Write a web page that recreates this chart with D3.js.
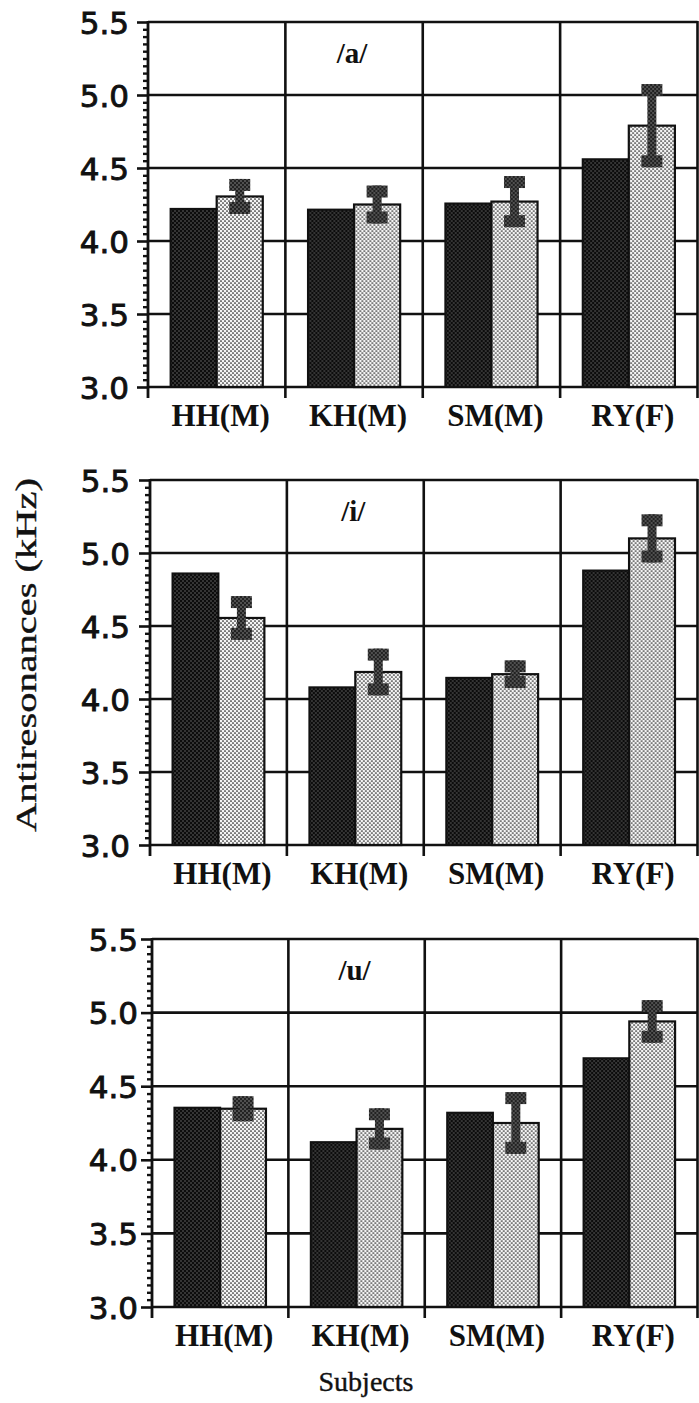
<!DOCTYPE html>
<html>
<head>
<meta charset="utf-8">
<script src="https://cdn.jsdelivr.net/npm/d3@7"></script>
<style>
  html, body { margin: 0; padding: 0; background: #fff; }
  svg { display: block; }
</style>
</head>
<body>
<svg id="chart" width="699" height="1403"></svg>
<script>
// Subjects on the x axis and vowel panels
const subjects = ["HH(M)", "KH(M)", "SM(M)", "RY(F)"];
const vowels = ["/a/", "/i/", "/u/"];
const series = ["dark", "light"];

// Antiresonance frequencies (kHz), one pair of series per vowel
const darkA  = [4.22, 4.215, 4.257, 4.56];
const lightA = [4.305, 4.25, 4.27, 4.79];
const sdA    = [0.12, 0.13, 0.175, 0.285];

const darkI  = [4.86, 4.08, 4.145, 4.88];
const lightI = [4.555, 4.185, 4.17, 5.10];
const sdI    = [0.15, 0.16, 0.095, 0.165];

const darkU  = [4.354, 4.12, 4.32, 4.69];
const lightU = [4.347, 4.21, 4.25, 4.94];
const sdU    = [0.085, 0.14, 0.21, 0.145];

// Axis ticks
const yMajor = [3.0, 3.5, 4.0, 4.5, 5.0, 5.5];
const yMinorStep = 0.05;
const yDomain = [3.0, 5.5];

const panelData = [
  { label: vowels[0], dark: darkA, light: lightA, sd: sdA },
  { label: vowels[1], dark: darkI, light: lightI, sd: sdI },
  { label: vowels[2], dark: darkU, light: lightU, sd: sdU }
];

// Panel geometry
const panelTops = [22, 480, 939];
const panelBottoms = [387, 845, 1307];
const panelLefts = [148, 150, 152];
const panelRight = 697.5;
const tickLabelGap = [19, 20, 14];

const svg = d3.select("#chart");

// Halftone-like fills
const defs = svg.append("defs");
function dotPattern(id, bg, dot, r) {
  const p = defs.append("pattern")
    .attr("id", id)
    .attr("patternUnits", "userSpaceOnUse")
    .attr("width", 4).attr("height", 4);
  p.append("rect").attr("width", 4).attr("height", 4).attr("fill", bg);
  p.append("circle").attr("cx", 1).attr("cy", 1).attr("r", r).attr("fill", dot);
  p.append("circle").attr("cx", 3).attr("cy", 3).attr("r", r).attr("fill", dot);
}
dotPattern("darkFill", "#0c0c0c", "#7a7a7a", 0.7);
dotPattern("lightFill", "#f4f4f4", "#1a1a1a", 0.85);
dotPattern("errFill", "#222", "#8a8a8a", 0.8);

const ink = "#111";
const serif = "'Liberation Serif', 'DejaVu Serif', serif";
const sans = "'DejaVu Sans', 'Noto Sans', sans-serif";

panelData.forEach((pd, pi) => {
  const top = panelTops[pi], bottom = panelBottoms[pi], left = panelLefts[pi];
  const g = svg.append("g");

  const y = d3.scaleLinear().domain(yDomain).range([bottom, top]);
  const x0 = d3.scaleBand().domain(subjects).range([left, panelRight]).paddingInner(0).paddingOuter(0);
  const x1 = d3.scaleBand().domain(series).range([0, x0.bandwidth()]).paddingInner(0).paddingOuter(0.49);

  // horizontal grid lines at every major tick
  g.append("g").selectAll("line").data(yMajor).join("line")
    .attr("x1", left).attr("x2", panelRight)
    .attr("y1", d => y(d)).attr("y2", d => y(d))
    .attr("stroke", ink).attr("stroke-width", 2.6);

  // bars
  const groups = g.append("g").selectAll("g").data(subjects).join("g")
    .attr("transform", d => `translate(${x0(d)},0)`);

  groups.append("rect")
    .attr("x", x1("dark"))
    .attr("width", x1.bandwidth())
    .attr("y", (d, i) => y(pd.dark[i]))
    .attr("height", (d, i) => y(yDomain[0]) - y(pd.dark[i]))
    .attr("fill", "url(#darkFill)")
    .attr("stroke", ink).attr("stroke-width", 2);

  groups.append("rect")
    .attr("x", x1("light"))
    .attr("width", x1.bandwidth())
    .attr("y", (d, i) => y(pd.light[i]))
    .attr("height", (d, i) => y(yDomain[0]) - y(pd.light[i]))
    .attr("fill", "url(#lightFill)")
    .attr("stroke", ink).attr("stroke-width", 2.2);

  // error bars on the light series: I-beam with block caps
  const capW = 21, capH = 12, stemW = 9;
  groups.each(function (d, i) {
    const cx = x1("light") + x1.bandwidth() / 2;
    const yTop = y(pd.light[i] + pd.sd[i]);
    const yBot = y(pd.light[i] - pd.sd[i]);
    const eg = d3.select(this).append("g").attr("fill", "url(#errFill)");
    eg.append("rect").attr("x", cx - stemW / 2).attr("width", stemW)
      .attr("y", yTop).attr("height", yBot - yTop);
    eg.append("rect").attr("x", cx - capW / 2).attr("width", capW)
      .attr("y", yTop).attr("height", capH);
    eg.append("rect").attr("x", cx - capW / 2).attr("width", capW)
      .attr("y", yBot - capH).attr("height", capH);
  });

  // vertical separators between subjects, extending below the baseline as ticks
  const seps = subjects.slice(1).map(s => x0(s)).concat([panelRight]);
  g.append("g").selectAll("line").data(seps).join("line")
    .attr("x1", d => d).attr("x2", d => d)
    .attr("y1", top - 1).attr("y2", bottom + 11)
    .attr("stroke", ink).attr("stroke-width", 2.6);

  // left axis line
  g.append("line")
    .attr("x1", left).attr("x2", left)
    .attr("y1", top - 1).attr("y2", bottom + 11)
    .attr("stroke", ink).attr("stroke-width", 2.8);

  // minor ticks
  const minor = d3.range(yDomain[0], yDomain[1] + 1e-9, yMinorStep)
    .filter(v => Math.abs(v * 2 - Math.round(v * 2)) > 1e-6);
  const minorAxis = d3.axisLeft(y).tickValues(minor).tickSize(5).tickFormat("");
  const ma = g.append("g").attr("transform", `translate(${left},0)`).call(minorAxis);
  ma.select(".domain").remove();
  ma.selectAll("line").attr("stroke", ink).attr("stroke-width", 2.4);

  // major ticks and labels
  const majorAxis = d3.axisLeft(y).tickValues(yMajor).tickSize(11)
    .tickPadding(tickLabelGap[pi] - 11).tickFormat(d3.format(".1f"));
  const mj = g.append("g").attr("transform", `translate(${left},0)`).call(majorAxis);
  mj.select(".domain").remove();
  mj.selectAll("line").attr("stroke", ink).attr("stroke-width", 2.6);
  mj.selectAll("text")
    .attr("font-family", sans)
    .attr("font-size", 31)
    .attr("fill", ink)
    .attr("stroke", ink)
    .attr("stroke-width", 0.9)
    .attr("dy", "0.36em");

  // subject labels
  g.append("g").selectAll("text").data(subjects).join("text")
    .attr("x", d => x0(d) + x0.bandwidth() / 2 + 4)
    .attr("y", bottom + 39)
    .attr("text-anchor", "middle")
    .attr("font-family", serif)
    .attr("font-weight", "bold")
    .attr("font-size", 31)
    .attr("fill", ink)
    .text(d => d);

  // vowel label
  g.append("text")
    .attr("x", x0(subjects[1]) + x0.bandwidth() / 2 - 2)
    .attr("y", top + 41)
    .attr("text-anchor", "middle")
    .attr("font-family", serif)
    .attr("font-weight", "bold")
    .attr("font-size", 29)
    .attr("fill", ink)
    .text(pd.label);
});

// axis titles
svg.append("text")
  .attr("transform", "translate(36,655) rotate(-90)")
  .attr("text-anchor", "middle")
  .attr("font-family", serif)
  .attr("font-size", 30)
  .attr("textLength", 354)
  .attr("lengthAdjust", "spacingAndGlyphs")
  .attr("fill", ink)
  .attr("stroke", ink)
  .attr("stroke-width", 0.4)
  .text("Antiresonances (kHz)");

svg.append("text")
  .attr("x", 366)
  .attr("y", 1391)
  .attr("text-anchor", "middle")
  .attr("font-family", serif)
  .attr("font-size", 28)
  .attr("fill", ink)
  .attr("stroke", ink)
  .attr("stroke-width", 0.4)
  .text("Subjects");
</script>
</body>
</html>
